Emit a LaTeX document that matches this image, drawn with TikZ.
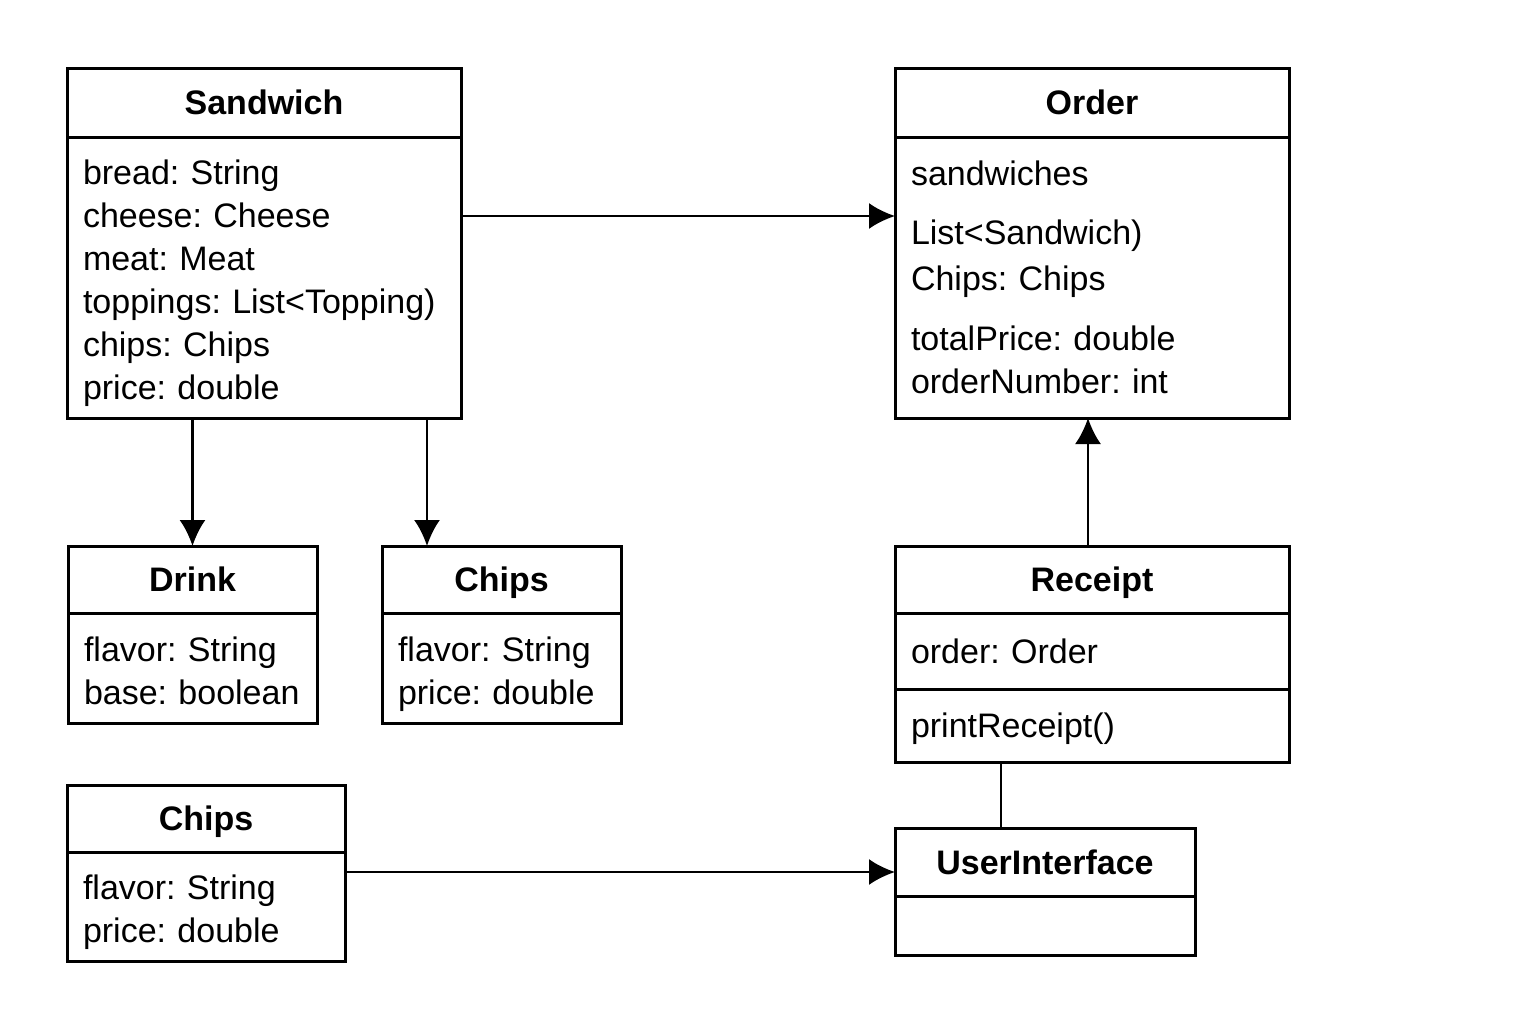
\documentclass[tikz,border=0pt]{standalone}
\usepackage{fontspec}
\setmainfont{Liberation Sans}
\frenchspacing
\usetikzlibrary{arrows.meta,positioning}
\tikzset{
  classhead/.style={
    rectangle,
    draw=black,
    line width=1.5pt,
    outer sep=0pt,
    minimum height=#1,
    text height=12.4pt,
    text depth=0pt,
    font=\fontsize{17}{21.5}\selectfont\bfseries
  },
  classbody/.style 2 args={
    rectangle,
    draw=black,
    line width=1.5pt,
    outer sep=0pt,
    align=left,
    text width=#1,
    minimum height=#2,
    inner xsep=8pt,
    inner ysep=0pt,
    font=\fontsize{17}{21.5}\selectfont
  },
  drop/.style={execute at begin node={\rule{0pt}{#1}}},
  arrow/.style={-{Latex[length=13pt,width=13pt]}, line width=1.25pt},
  link/.style={line width=1.25pt}
}

\begin{document}
\begin{tikzpicture}[x=0.5pt,y=-0.5pt]
  \useasboundingbox (0,0) rectangle (1536,1024);

  \node[classhead=34.5pt, minimum width=197pt] (sandwich) at (264,102.5) {Sandwich};
  \node[classbody={181pt}{140.5pt}, drop=18pt, below=0pt of sandwich] (sandwichbody)
    {bread: String\\cheese: Cheese\\meat: Meat\\toppings: List<Topping)\\chips: Chips\\price: double};

  \node[classhead=34.5pt, minimum width=197pt] (order) at (1092,102.5) {Order};
  \node[classbody={181pt}{140.5pt}, below=0pt of order] (orderbody)
    {sandwiches\\[8pt]List<Sandwich)\\[1.5pt]Chips: Chips\\[8.5pt]totalPrice: double\\orderNumber: int};

  \node[classhead=33.5pt, minimum width=124.5pt] (drink) at (192.5,579.5) {Drink};
  \node[classbody={108.5pt}{55pt}, drop=15.5pt, below=0pt of drink] (drinkbody)
    {flavor: String\\base: boolean};

  \node[classhead=33.5pt, minimum width=119.5pt] (chips) at (501.5,579.5) {Chips};
  \node[classbody={103.5pt}{55pt}, drop=18.5pt, below=0pt of chips] (chipsbody)
    {flavor: String\\price: double};

  \node[classhead=33.5pt, minimum width=197pt] (receipt) at (1092,579.5) {Receipt};
  \node[classbody={181pt}{38pt}, below=0pt of receipt] (receiptattr) {order: Order};
  \node[classbody={181pt}{36.5pt}, drop=16pt, below=0pt of receiptattr] (receiptops) {printReceipt()};

  \node[classhead=33.5pt, minimum width=139pt] (chipstwo) at (206,818.5) {Chips};
  \node[classbody={123pt}{54.5pt}, drop=18pt, below=0pt of chipstwo] (chipstwobody)
    {flavor: String\\price: double};

  \node[classhead=34pt, minimum width=150pt] (ui) at (1045,862) {UserInterface};
  \node[classbody={134pt}{29.5pt}, below=0pt of ui] (uibody) {};

  \coordinate (sandwichtap) at ([xshift=-17pt]sandwichbody.south east);
  \coordinate (uientry) at ([yshift=-5pt]ui.west);
  \coordinate (uitop) at ([xshift=-22pt]ui.north);

  \draw[arrow] ([yshift=30.75pt]sandwichbody.east) -- ([yshift=30.75pt]orderbody.west);
  \draw[arrow] (sandwichbody.south -| drink.north) -- (drink.north);
  \draw[arrow] (sandwichtap) -- (sandwichtap |- chips.north);
  \draw[arrow] ([xshift=-2pt]receipt.north) -- ([xshift=-2pt]orderbody.south);
  \draw[arrow] (chipstwobody.east |- uientry) -- (uientry);
  \draw[link] (receiptops.south -| uitop) -- (uitop);
\end{tikzpicture}
\end{document}
